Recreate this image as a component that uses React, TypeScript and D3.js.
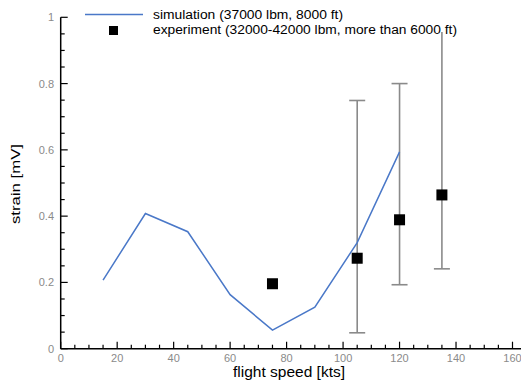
import React, { useEffect, useRef } from "react";
import * as d3 from "d3";

const simSpeed = [15, 30, 45, 60, 75, 90, 105, 120];
const simStrain = [0.207, 0.408, 0.353, 0.163, 0.056, 0.125, 0.32, 0.594];

const expSpeed = [75, 105, 120, 135];
const expStrain = [0.196, 0.273, 0.389, 0.464];
const expLow = [null, 0.048, 0.193, 0.241];
const expHigh = [null, 0.749, 0.8, 1.05];

const xTicks = [0, 20, 40, 60, 80, 100, 120, 140, 160];
const yTicks = [0, 0.2, 0.4, 0.6, 0.8, 1];
const legendLabels = [
  "simulation (37000 lbm, 8000 ft)",
  "experiment (32000-42000 lbm, more than 6000 ft)",
];
const legendWidths = [190, 304];

export default function App() {
  const ref = useRef<SVGSVGElement>(null);
  useEffect(() => {
    const svg = d3.select(ref.current);
    svg.selectAll("*").remove();
    const x = d3.scaleLinear().domain([0, 160]).range([60.7, 512.5]);
    const y = d3.scaleLinear().domain([0, 1]).range([348.7, 17.3]);
    const font = "'Liberation Sans', Arial, sans-serif";
    const g = svg.append("g");

    // error bars
    expSpeed.forEach((s, i) => {
      const lo = expLow[i];
      const hi = expHigh[i];
      if (lo == null || hi == null) return;
      const hiC = Math.min(hi, 1);
      g.append("line").attr("x1", x(s)).attr("x2", x(s)).attr("y1", y(lo)).attr("y2", y(hiC))
        .attr("stroke", "#8a8a8a").attr("stroke-width", 1.6);
      g.append("line").attr("x1", x(s) - 8).attr("x2", x(s) + 8).attr("y1", y(lo)).attr("y2", y(lo))
        .attr("stroke", "#8a8a8a").attr("stroke-width", 1.6);
      if (hi <= 1) {
        g.append("line").attr("x1", x(s) - 8).attr("x2", x(s) + 8).attr("y1", y(hi)).attr("y2", y(hi))
          .attr("stroke", "#8a8a8a").attr("stroke-width", 1.6);
      }
    });

    // sim line
    const line = d3.line<number>().x((d, i) => x(simSpeed[i])).y((d) => y(d));
    g.append("path").attr("d", line(simStrain) as string).attr("fill", "none")
      .attr("stroke", "#4a78c8").attr("stroke-width", 1.5);

    // exp markers
    expSpeed.forEach((s, i) => {
      g.append("rect").attr("x", x(s) - 5.5).attr("y", y(expStrain[i]) - 5.5)
        .attr("width", 11).attr("height", 11).attr("fill", "#000");
    });

    // axes
    const ax = svg.append("g");
    ax.append("line").attr("x1", x(0)).attr("x2", 521).attr("y1", y(0)).attr("y2", y(0))
      .attr("stroke", "#000").attr("stroke-width", 1.5);
    ax.append("line").attr("x1", x(0)).attr("x2", x(0)).attr("y1", y(0)).attr("y2", y(1))
      .attr("stroke", "#000").attr("stroke-width", 1.5);
    for (let v = 0; v <= 165; v += 5) {
      const major = v % 20 === 0;
      ax.append("line").attr("x1", x(v)).attr("x2", x(v)).attr("y1", y(0)).attr("y2", y(0) - (major ? 7 : 4))
        .attr("stroke", "#000").attr("stroke-width", 1.2);
    }
    for (let k = 0; k <= 20; k++) {
      const v = k * 0.05;
      const major = k % 4 === 0;
      ax.append("line").attr("x1", x(0)).attr("x2", x(0) + (major ? 7 : 4)).attr("y1", y(v)).attr("y2", y(v))
        .attr("stroke", "#000").attr("stroke-width", 1.2);
    }
    xTicks.forEach((t) => {
      ax.append("text").attr("x", x(t)).attr("y", 362).attr("text-anchor", "middle")
        .attr("font-family", font).attr("font-size", 11).attr("fill", "#8a8a8a").text(String(t));
    });
    yTicks.forEach((t) => {
      ax.append("text").attr("x", 54).attr("y", y(t) + 4).attr("text-anchor", "end")
        .attr("font-family", font).attr("font-size", 11).attr("fill", "#8a8a8a").text(String(t));
    });

    ax.append("text").attr("x", 233).attr("y", 377)
      .attr("textLength", 112).attr("lengthAdjust", "spacingAndGlyphs")
      .attr("font-family", font).attr("font-size", 14).attr("fill", "#000").text("flight speed [kts]");
    ax.append("text").attr("transform", "translate(20,224) rotate(-90)")
      .attr("textLength", 80).attr("lengthAdjust", "spacingAndGlyphs")
      .attr("font-family", font).attr("font-size", 13.5).attr("fill", "#000").text("strain [mV]");

    // legend
    const lg = svg.append("g");
    lg.append("rect").attr("x", 80).attr("y", 5).attr("width", 380).attr("height", 27).attr("fill", "#fff");
    lg.append("line").attr("x1", 85).attr("x2", 143).attr("y1", 14.5).attr("y2", 14.5)
      .attr("stroke", "#4a78c8").attr("stroke-width", 1.5);
    lg.append("rect").attr("x", 109).attr("y", 26).attr("width", 9).attr("height", 9).attr("fill", "#000");
    legendLabels.forEach((l, i) => {
      lg.append("text").attr("x", 153).attr("y", 19 + i * 15).attr("font-family", font)
        .attr("textLength", legendWidths[i]).attr("lengthAdjust", "spacingAndGlyphs")
        .attr("font-size", 12).attr("fill", "#000").text(l);
    });
  }, []);
  return (
    <svg ref={ref} width={521} height={381}
      style={{ position: "absolute", left: 0, top: 0, background: "#fff" }} />
  );
}
